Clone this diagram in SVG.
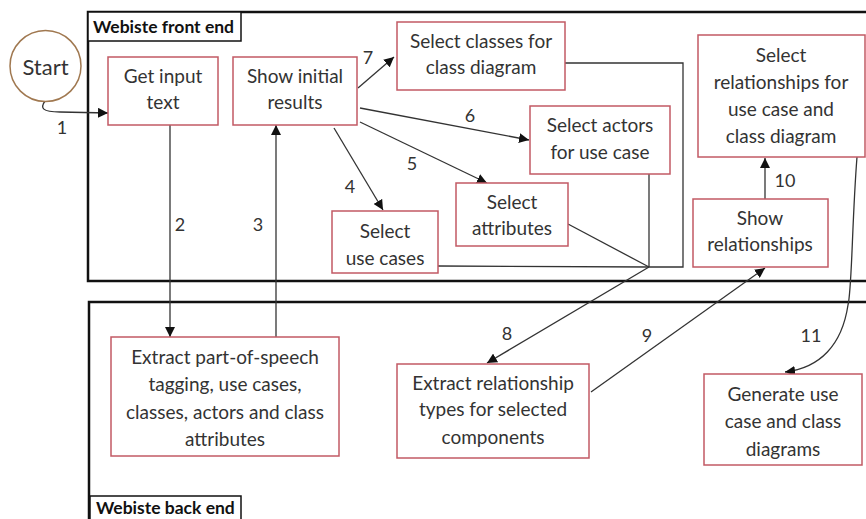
<svg xmlns="http://www.w3.org/2000/svg" width="866" height="519" viewBox="0 0 866 519">
<defs>
<style>
.box{fill:#fff;stroke:#c25a64;stroke-width:1.5}
.t{font-family:Lato,"Liberation Sans",sans-serif;font-size:19px;fill:#333;text-anchor:middle}
.n{font-family:Lato,"Liberation Sans",sans-serif;font-size:18px;fill:#333;text-anchor:middle}
.frame{fill:none;stroke:#111;stroke-width:2.5}
.lbl{fill:#fff;stroke:#111;stroke-width:1.5}
.lt{font-family:Lato,"Liberation Sans",sans-serif;font-size:17.5px;font-weight:bold;fill:#111}
.c{fill:none;stroke:#333;stroke-width:1.3}
.ca{fill:none;stroke:#333;stroke-width:1.3;marker-end:url(#ah)}
</style>
<marker id="ah" viewBox="0 0 10 10" refX="10" refY="5" markerWidth="10" markerHeight="10" markerUnits="userSpaceOnUse" orient="auto">
<path d="M0,0 L10,5 L0,10 z" fill="#111"/>
</marker>
</defs>
<rect width="866" height="519" fill="#fff"/>
<g id="frontend">
<rect class="frame" x="88" y="12" width="790" height="269"/>
<rect class="lbl" x="88" y="12" width="153" height="29"/>
<text class="lt" x="93" y="33">Webiste front end</text>
</g>
<g id="backend">
<rect class="frame" x="89" y="302" width="790" height="240"/>
<rect class="lbl" x="90" y="496" width="151" height="30"/>
<text class="lt" x="96" y="514">Webiste back end</text>
</g>
<g id="connectors">
<path class="ca" d="M45,101 C40,108 42,112 60,112 L108,113"/>
<path class="ca" d="M170,125 L170,337"/>
<path class="ca" d="M276,337 L276,125"/>
<path class="ca" d="M358,88 L394,57"/>
<path class="ca" d="M360,108 L529,140"/>
<path class="ca" d="M360,122 L487,183"/>
<path class="ca" d="M334,128 L383,210"/>
<path class="c" d="M565,63 L683,63 L683,267 L649,267"/>
<path class="c" d="M649,174 L649,267"/>
<path class="c" d="M568,224 L649,267"/>
<path class="c" d="M438,266 L649,267"/>
<path class="ca" d="M649,267 L487,363"/>
<path class="ca" d="M591,392 L765,268"/>
<path class="ca" d="M765,199 L765,158"/>
<path class="ca" d="M857,157 C852,220 852,290 848,305 C842,345 820,368 785,372"/>
<text class="n" x="62" y="134">1</text>
<text class="n" x="180" y="231">2</text>
<text class="n" x="258" y="231">3</text>
<text class="n" x="350" y="193">4</text>
<text class="n" x="412" y="170">5</text>
<text class="n" x="470" y="122">6</text>
<text class="n" x="368" y="64">7</text>
<text class="n" x="507" y="340">8</text>
<text class="n" x="647" y="342">9</text>
<text class="n" x="785" y="187">10</text>
<text class="n" x="811" y="342">11</text>
</g>
<g id="start">
<circle cx="45.5" cy="66" r="35.5" fill="#fff" stroke="#a07850" stroke-width="1.5"/>
<text class="t" x="45.5" y="75" style="font-size:22px">Start</text>
</g>
<g id="getinput">
<rect class="box" x="108" y="57" width="110" height="68"/>
<text class="t" x="163" y="83">Get input</text>
<text class="t" x="163" y="109">text</text>
</g>
<g id="showinitial">
<rect class="box" x="233" y="57" width="124" height="68"/>
<text class="t" x="295" y="83">Show initial</text>
<text class="t" x="295" y="109">results</text>
</g>
<g id="selectclasses">
<rect class="box" x="397" y="22" width="168" height="68"/>
<text class="t" x="481" y="48">Select classes for</text>
<text class="t" x="481" y="74">class diagram</text>
</g>
<g id="selectactors">
<rect class="box" x="530" y="106" width="140" height="68"/>
<text class="t" x="600" y="132">Select actors</text>
<text class="t" x="600" y="159">for use case</text>
</g>
<g id="selectattributes">
<rect class="box" x="456" y="183" width="112" height="63"/>
<text class="t" x="512" y="209">Select</text>
<text class="t" x="512" y="235">attributes</text>
</g>
<g id="selectusecases">
<rect class="box" x="332" y="211" width="106" height="62"/>
<text class="t" x="385" y="238">Select</text>
<text class="t" x="385" y="265">use cases</text>
</g>
<g id="selectrelationships">
<rect class="box" x="698" y="35" width="167" height="122"/>
<text class="t" x="781" y="62">Select</text>
<text class="t" x="781" y="89">relationships for</text>
<text class="t" x="781" y="116">use case and</text>
<text class="t" x="781" y="143">class diagram</text>
</g>
<g id="showrelationships">
<rect class="box" x="693" y="199" width="135" height="68"/>
<text class="t" x="760" y="225">Show</text>
<text class="t" x="760" y="251">relationships</text>
</g>
<g id="extractpos">
<rect class="box" x="111" y="337" width="228" height="119"/>
<text class="t" x="225" y="364">Extract part-of-speech</text>
<text class="t" x="225" y="391">tagging, use cases,</text>
<text class="t" x="225" y="419">classes, actors and class</text>
<text class="t" x="225" y="446">attributes</text>
</g>
<g id="extractrel">
<rect class="box" x="397" y="364" width="192" height="94"/>
<text class="t" x="493" y="390">Extract relationship</text>
<text class="t" x="493" y="416">types for selected</text>
<text class="t" x="493" y="444">components</text>
</g>
<g id="generate">
<rect class="box" x="704" y="374" width="158" height="91"/>
<text class="t" x="783" y="401">Generate use</text>
<text class="t" x="783" y="428">case and class</text>
<text class="t" x="783" y="456">diagrams</text>
</g>
</svg>
